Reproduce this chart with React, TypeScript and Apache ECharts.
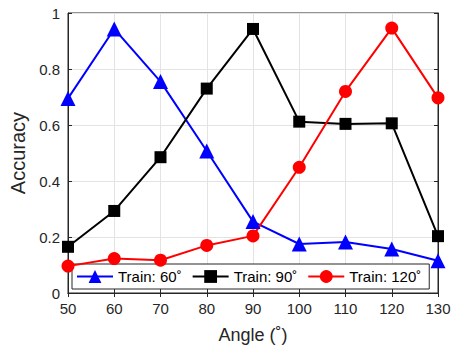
import React, { useEffect, useRef } from "react";
import * as echarts from "echarts";

const angles = [50, 60, 70, 80, 90, 100, 110, 120, 130];
const train60 = [0.695, 0.943, 0.755, 0.507, 0.255, 0.175, 0.182, 0.157, 0.115];
const train90 = [0.165, 0.293, 0.485, 0.73, 0.943, 0.612, 0.604, 0.606, 0.203];
const train120 = [0.096, 0.123, 0.117, 0.17, 0.204, 0.449, 0.72, 0.946, 0.697];
const seriesNames = ["Train: 60˚", "Train: 90˚", "Train: 120˚"];
const yTicks = [0, 0.2, 0.4, 0.6, 0.8, 1];

const AX = "#262626";
const FONT = "'Liberation Sans', Arial, Helvetica, sans-serif";

export default function App() {
  const ref = useRef<HTMLDivElement>(null);
  useEffect(() => {
    if (!ref.current) return;
    const chart = echarts.init(ref.current, undefined, { renderer: "svg" });
    const pairs = (ys: number[]) => angles.map((a, i) => [a, ys[i]]);
    const mk = (name: string, ys: number[], color: string, symbol: string, size: number) => ({
      name,
      type: "line",
      data: pairs(ys),
      symbol,
      symbolSize: size,
      lineStyle: { color, width: 2 },
      itemStyle: { color },
      z: 3,
    });
    chart.setOption({
      animation: false,
      textStyle: { fontFamily: FONT },
      grid: { left: 67, right: 23, top: 13, bottom: 56, show: true, borderColor: AX, borderWidth: 1, backgroundColor: "#fff" },
      xAxis: [
        {
          type: "value",
          min: 50,
          max: 130,
          interval: 10,
          position: "bottom",
          name: "Angle (˚)",
          nameLocation: "middle",
          nameGap: 33,
          nameTextStyle: { fontSize: 18, color: AX, fontFamily: FONT },
          axisLine: { show: true, lineStyle: { color: AX } },
          axisTick: { show: true, inside: true, length: 4, lineStyle: { color: AX } },
          axisLabel: { fontSize: 15, color: AX, margin: 8, fontFamily: FONT },
          splitLine: { show: true, lineStyle: { color: "#e3e3e3", width: 1 } },
        },
        {
          type: "value",
          min: 50,
          max: 130,
          interval: 10,
          position: "top",
          axisLine: { show: true, lineStyle: { color: AX } },
          axisTick: { show: true, inside: true, length: 4, lineStyle: { color: AX } },
          axisLabel: { show: false },
          splitLine: { show: false },
        },
      ],
      yAxis: [
        {
          type: "value",
          min: 0,
          max: 1,
          interval: 0.2,
          position: "left",
          name: "Accuracy",
          nameLocation: "middle",
          nameGap: 40,
          nameTextStyle: { fontSize: 20, color: AX, fontFamily: FONT },
          axisLine: { show: true, lineStyle: { color: AX } },
          axisTick: { show: true, inside: true, length: 4, lineStyle: { color: AX } },
          axisLabel: {
            fontSize: 15,
            color: AX,
            margin: 8,
            fontFamily: FONT,
            formatter: (v: number) => {
              const t = yTicks.find((k) => Math.abs(k - v) < 1e-9);
              if (t === undefined) return "";
              return t === 0 || t === 1 ? String(t) : t.toFixed(1);
            },
          },
          splitLine: { show: true, lineStyle: { color: "#e3e3e3", width: 1 } },
        },
        {
          type: "value",
          min: 0,
          max: 1,
          interval: 0.2,
          position: "right",
          axisLine: { show: true, lineStyle: { color: AX } },
          axisTick: { show: true, inside: true, length: 4, lineStyle: { color: AX } },
          axisLabel: { show: false },
          splitLine: { show: false },
        },
      ],
      legend: {
        left: 72,
        top: 264,
        padding: [5, 8, 5, 4],
        itemGap: 10,
        itemWidth: 36,
        itemHeight: 16,
        backgroundColor: "#fff",
        borderColor: AX,
        borderWidth: 1,
        borderRadius: 0,
        textStyle: { fontSize: 15, color: "#000", fontFamily: FONT },
        data: seriesNames,
        z: 2,
      },
      series: [
        mk(seriesNames[0], train60, "#0000ff", "triangle", 15),
        mk(seriesNames[1], train90, "#000000", "rect", 12),
        mk(seriesNames[2], train120, "#ff0000", "circle", 13),
      ],
    });
    return () => chart.dispose();
  }, []);
  return (
    <div
      ref={ref}
      style={{ position: "fixed", left: 0, top: 0, width: 461, height: 349, background: "#fff" }}
    />
  );
}
